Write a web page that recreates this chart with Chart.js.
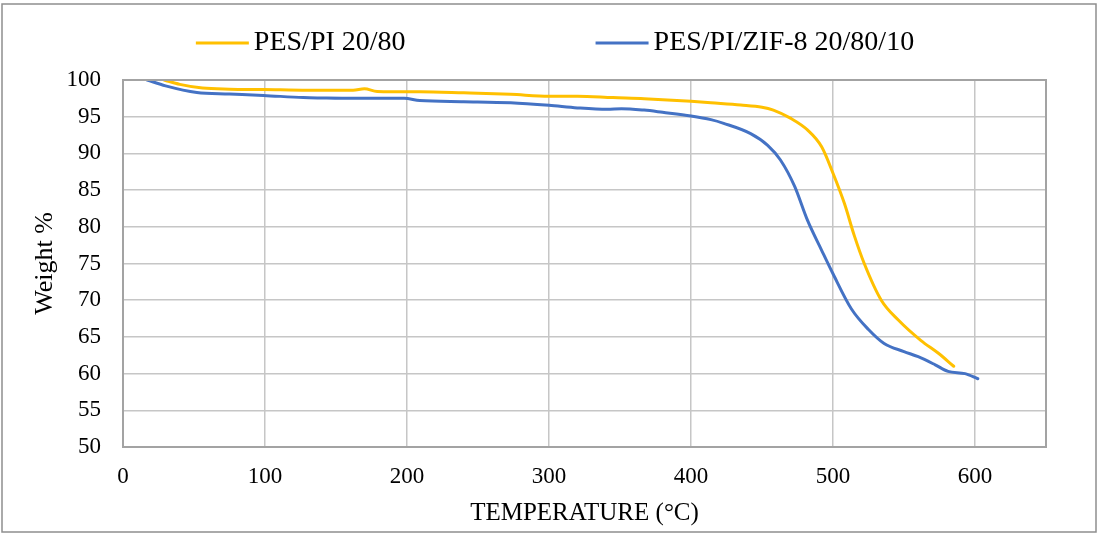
<!DOCTYPE html>
<html>
<head>
<meta charset="utf-8">
<script src="https://cdn.jsdelivr.net/npm/chart.js@4.4.1/dist/chart.umd.min.js"></script>
<style>
  html, body { margin:0; padding:0; background:#fff; }
  #chart { display:block; }
</style>
</head>
<body>
<canvas id="chart" width="1098" height="534"></canvas>
<script>
// TGA curves: temperature (°C) vs remaining weight (%)
const tempPI = [29, 40, 56, 75, 99, 130, 162, 170, 179, 209, 240, 273, 300, 320, 345, 367, 400, 414, 435, 450, 458, 470, 482, 492, 500, 508, 515, 522, 534, 546, 562, 574, 585];
const weightPI = [100, 99.4, 98.9, 98.75, 98.7, 98.6, 98.6, 98.8, 98.45, 98.4, 98.25, 98.05, 97.8, 97.8, 97.6, 97.45, 97.1, 96.9, 96.6, 96.3, 95.9, 94.8, 93.2, 90.9, 87.3, 83.2, 78.8, 75, 70, 67.3, 64.5, 62.8, 61.0];

const tempZIF = [17, 30, 52, 75, 99, 127, 140, 162, 198, 209, 240, 273, 300, 320, 341, 351, 367, 380, 400, 414, 423, 442, 454, 463, 473, 482, 492, 500, 513, 525, 536, 550, 560, 572, 581, 593, 602];
const weightZIF = [100, 99.2, 98.3, 98.1, 97.9, 97.6, 97.55, 97.5, 97.5, 97.2, 97.05, 96.9, 96.55, 96.2, 96.0, 96.1, 95.9, 95.6, 95.1, 94.6, 94.1, 92.7, 91.1, 89.1, 85.5, 80.9, 76.8, 73.6, 68.8, 66.0, 64.1, 63.0, 62.3, 61.2, 60.3, 60.0, 59.3];

const seriesNames = ['PES/PI 20/80', 'PES/PI/ZIF-8 20/80/10'];
const xTicks = [0, 100, 200, 300, 400, 500, 600];

const FONT = "'Liberation Serif', 'Times New Roman', serif";

const pts = (xs, ys) => xs.map((x, i) => ({ x, y: ys[i] }));

// frame round the whole picture and the plot box
const frames = {
  id: 'frames',
  afterDraw(chart){
    const { ctx, chartArea: a } = chart;
    ctx.save();
    ctx.strokeStyle = '#a3a3a3'; ctx.lineWidth = 2;
    ctx.strokeRect(a.left, a.top, a.right - a.left, a.bottom - a.top);
    ctx.strokeStyle = '#8e8e8e'; ctx.lineWidth = 1.5;
    ctx.strokeRect(2, 4, 1094, 528);
    ctx.restore();
  }
};

// legend drawn as line + label pairs across the top
const topLegend = {
  id: 'topLegend',
  afterDraw(chart){
    const ctx = chart.ctx;
    const lineLen = 53, gap = 5, between = 190, y = 43;
    ctx.save();
    ctx.font = `28px ${FONT}`;
    const items = chart.data.datasets.map(ds => ({ ds, w: ctx.measureText(ds.label).width }));
    const total = items.reduce((s, it) => s + lineLen + gap + it.w, 0) + between * (items.length - 1);
    let x = 555 - total / 2;
    items.forEach(({ ds, w }) => {
      ctx.strokeStyle = ds.borderColor; ctx.lineWidth = 3;
      ctx.beginPath(); ctx.moveTo(x, y); ctx.lineTo(x + lineLen, y); ctx.stroke();
      ctx.fillStyle = '#000'; ctx.textBaseline = 'middle'; ctx.textAlign = 'left';
      ctx.fillText(ds.label, x + lineLen + gap, y);
      x += lineLen + gap + w + between;
    });
    ctx.restore();
  }
};

new Chart(document.getElementById('chart'), {
  type: 'line',
  data: {
    datasets: [
      { label: seriesNames[0], data: pts(tempPI, weightPI), borderColor: '#FFC000', backgroundColor: '#FFC000' },
      { label: seriesNames[1], data: pts(tempZIF, weightZIF), borderColor: '#4472C4', backgroundColor: '#4472C4' }
    ]
  },
  options: {
    responsive: false,
    animation: false,
    parsing: false,
    layout: { padding: { top: 80, right: 52, bottom: 0, left: 0 } },
    elements: {
      point: { radius: 0 },
      line: { borderWidth: 3, cubicInterpolationMode: 'monotone', borderCapStyle: 'round' }
    },
    plugins: { legend: { display: false }, tooltip: { enabled: false } },
    scales: {
      x: {
        type: 'linear', min: 0, max: 650,
        afterBuildTicks: s => { s.ticks = xTicks.map(v => ({ value: v })); },
        afterFit: s => { s.height = 87; },
        grid: { color: '#c6c6c6', lineWidth: 1.5, drawTicks: false },
        border: { color: '#a3a3a3', width: 2 },
        ticks: { padding: 16, color: '#000', font: { family: FONT, size: 23 } },
        title: { display: true, text: 'TEMPERATURE (°C)', color: '#000', font: { family: FONT, size: 25 }, padding: { top: 0, bottom: 6 } }
      },
      y: {
        min: 50, max: 100,
        afterFit: s => { s.width = 123; },
        grid: { color: '#c6c6c6', lineWidth: 1.5, drawTicks: false },
        border: { color: '#a3a3a3', width: 2 },
        ticks: { stepSize: 5, padding: 22, color: '#000', font: { family: FONT, size: 23 } },
        title: { display: true, text: 'Weight %', color: '#000', font: { family: FONT, size: 26 }, padding: { top: 30, bottom: 0 } }
      }
    }
  },
  plugins: [frames, topLegend]
});
</script>
</body>
</html>
